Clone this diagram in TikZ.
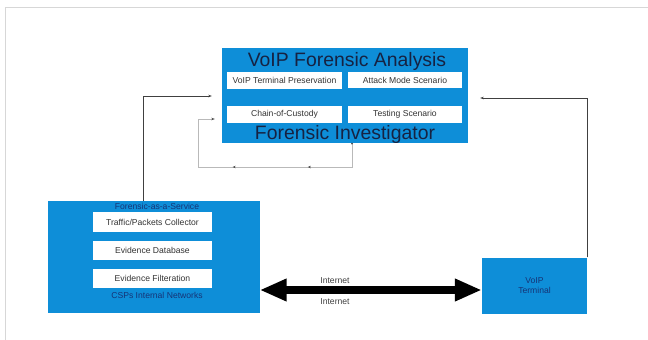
\documentclass[tikz,border=0pt]{standalone}
\usepackage{fontspec}
\setmainfont{Liberation Sans}
\usetikzlibrary{arrows.meta,decorations.markings}
\definecolor{boxblue}{RGB}{14,142,216}
\definecolor{titlec}{RGB}{22,34,66}
\definecolor{labblue}{RGB}{22,52,118}
\definecolor{frame}{RGB}{215,215,215}
\definecolor{loopc}{RGB}{185,185,185}
\begin{document}
\begin{tikzpicture}[x=1pt,y=-1pt,
  bluebox/.style={fill=boxblue,draw=none,inner sep=0pt},
  whitebox/.style={fill=white,draw=none,inner sep=0pt,font=\fontsize{8.6}{10}\selectfont,text=black!80},
  bigtitle/.style={font=\fontsize{19.4}{22}\selectfont,text=titlec,inner sep=0pt},
  smalllab/.style={font=\fontsize{8.6}{10}\selectfont,text=labblue,inner sep=0pt},
  thinarrow/.style={draw=black!75,line width=0.6pt,-{Stealth[length=3.5pt,width=2.5pt]}},
  looparrow/.style={draw=loopc,line width=0.6pt,-{Stealth[length=3.5pt,width=2.5pt,color=black!70]}},
  bigarrow/.style={line width=8pt,{Triangle[length=27pt,width=21pt]}-{Triangle[length=27pt,width=21pt]}}
]
\useasboundingbox (0,0) rectangle (648,340);
\draw[frame,line width=0.8pt] (5,340) -- (5,7) -- (648,7);

% top box
\node[bluebox,minimum width=246pt,minimum height=95pt] (fva) at (345,95.5) {};
\node[bigtitle] (ttl) at (347,61) {VoIP Forensic Analysis};
\node[bigtitle] (fin) at (345,134) {Forensic Investigator};
\node[whitebox,minimum width=115pt,minimum height=17pt] (vtp) at (284.5,80.5) {VoIP Terminal Preservation};
\node[whitebox,minimum width=114pt,minimum height=16pt] (ams) at (405,80) {Attack Mode Scenario};
\node[whitebox,minimum width=115pt,minimum height=17pt] (coc) at (284.5,114.5) {Chain-of-Custody};
\node[whitebox,minimum width=114pt,minimum height=17pt] (tsc) at (405,114.5) {Testing Scenario};

% left box
\node[bluebox,minimum width=212pt,minimum height=112pt] (fas) at (153.5,257) {};
\node[smalllab] (faas) at (157,206) {Forensic-as-a-Service};
\node[smalllab] (csp) at (157,295) {CSPs Internal Networks};
\node[whitebox,minimum width=119pt,minimum height=20pt] (tpc) at (152.5,222) {Traffic/Packets Collector};
\node[whitebox,minimum width=119pt,minimum height=19pt] (edb) at (152.5,250.5) {Evidence Database};
\node[whitebox,minimum width=119pt,minimum height=19pt] (efl) at (152.5,278.5) {Evidence Filteration};

% VoIP terminal
\node[bluebox,minimum width=105pt,minimum height=56pt,align=center,
  font=\fontsize{8.6}{10.5}\selectfont,text=labblue] (term) at (534.5,285.5) {VoIP\\Terminal};

% internet double arrow
\coordinate (ay) at (0,290);
\draw[bigarrow] (fas.east |- ay) -- (term.west |- ay);
\node[font=\fontsize{8.6}{10}\selectfont,text=black!75,inner sep=0pt] (in1) at (335,281) {Internet};
\node[font=\fontsize{8.6}{10}\selectfont,text=black!75,inner sep=0pt] (in2) at (335,302) {Internet};

% thin connectors
\coordinate (la) at (143,0);
\coordinate (ra) at (587,0);
\draw[thinarrow] (fas.north -| la) |- ([xshift=-10pt]fva.west |- 0,96);
\draw[thinarrow] (term.north -| ra) |- ([xshift=12pt]fva.east |- 0,98);

% gray loop
\coordinate (lx) at (352,0);
\coordinate (lb) at (0,167);
\coordinate (lw) at (198,0);
\draw[looparrow,
  decoration={markings,
    mark=at position 0.5pt with {\fill[black!70] (0,0) circle (1pt);},
    mark=at position 0.28 with {\arrow{Stealth[length=3pt,width=2.5pt,color=black!70]}},
    mark=at position 0.59 with {\arrow{Stealth[length=3pt,width=2.5pt,color=black!70]}}},
  postaction={decorate}]
  (fva.south -| lx) |- (lw |- lb) |- ([xshift=-7pt]fva.west |- 0,119);
\end{tikzpicture}
\end{document}
